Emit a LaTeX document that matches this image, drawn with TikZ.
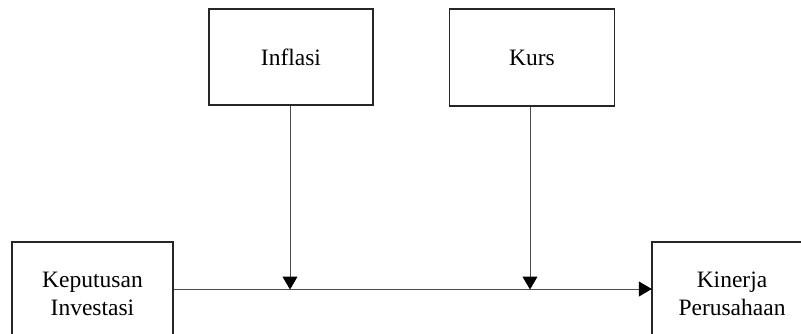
\documentclass[tikz,border=0pt]{standalone}
\usepackage{fontspec}
\setmainfont{Liberation Serif}
\usetikzlibrary{arrows.meta}
\begin{document}
\begin{tikzpicture}[x=1pt,y=-1pt,
  varbox/.style={draw=black!85,line width=1.4pt,rectangle,inner sep=0pt,
    align=center,font=\fontsize{23.5}{28}\selectfont},
  link/.style={draw=black!70,line width=1pt,-{Triangle[width=15pt,length=13pt,color=black]},shorten >=-0.5pt}
]
\useasboundingbox (0,0) rectangle (801,334);
\clip (0,0) rectangle (801,334);
\node[varbox,minimum width=164pt,minimum height=96pt] (infl) at (291,57) {Inflasi};
\node[varbox,minimum width=165pt,minimum height=97pt] (kurs) at (532,57.5) {Kurs};
\node[varbox,minimum width=161pt,minimum height=104pt] (kep) at (92.5,294) {Keputusan\\Investasi};
\node[varbox,minimum width=160pt,minimum height=104pt] (kin) at (732,294) {Kinerja\\Perusahaan};
\coordinate (ls) at (173,289);
\coordinate (le) at (652,289);
\coordinate (j1) at (290,289);
\coordinate (j2) at (530,289);
\draw[link] (kep.east |- ls) -- (kin.west |- le);
\draw[link] (infl.south -| j1) -- (j1);
\draw[link] (kurs.south -| j2) -- (j2);
\end{tikzpicture}
\end{document}
